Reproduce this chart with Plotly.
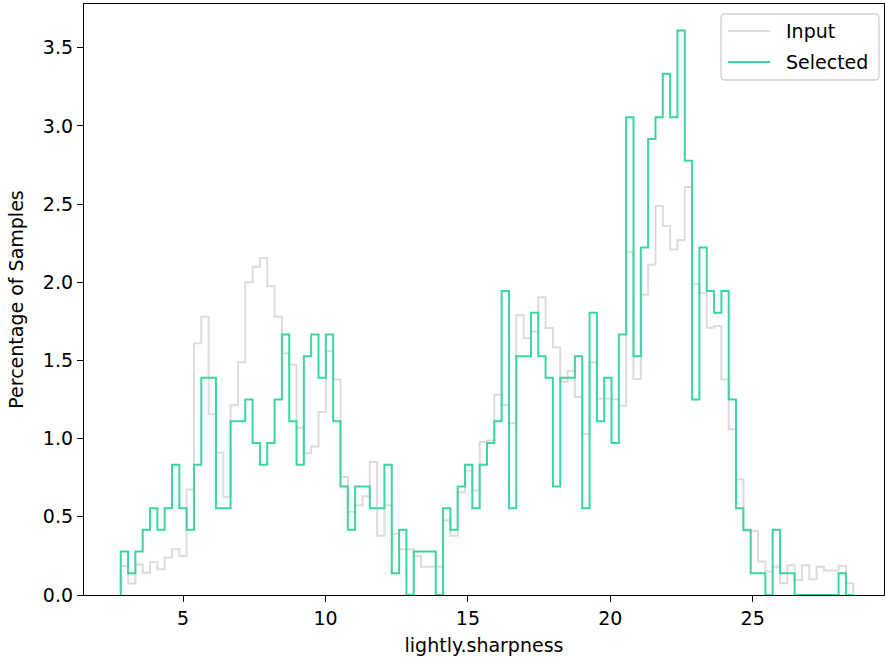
import numpy as np
import plotly.graph_objects as go

# ---- data ----
x_label = "lightly.sharpness"
y_label = "Percentage of Samples"
series_names = ["Input", "Selected"]

hist_range = [2.81, 28.53]   # histogram range of the sharpness values
n_bins = 100

# Input distribution, percentage of samples per bin
input_pct = [
    0.185, 0.073, 0.195, 0.143, 0.21, 0.165, 0.24, 0.293, 0.25, 0.674,
    1.61, 1.78, 1.156, 0.91, 0.627, 1.216, 1.488, 2.0, 2.10, 2.156,
    1.974, 1.78, 1.546, 1.473, 1.07, 0.906, 0.95, 1.17, 1.56, 1.378,
    0.754, 0.533, 0.574, 0.632, 0.85, 0.379, 0.574, 0.392, 0.293, 0.293,
    0.25, 0.18, 0.18, 0.18, 0.478, 0.379, 0.657, 0.795, 0.669, 0.978,
    0.988, 1.28, 1.214, 1.098, 1.79, 1.642, 1.685, 1.905, 1.708, 1.584,
    1.364, 1.434, 1.267, 1.03, 1.488, 1.257, 1.257, 1.252, 1.21, 2.194,
    1.381, 1.92, 2.113, 2.488, 2.36, 2.21, 2.27, 2.61, 1.99, 1.93,
    1.71, 1.72, 1.378, 1.06, 0.74, 0.41, 0.41, 0.214, 0.15, 0.18,
    0.075, 0.19, 0.096, 0.19, 0.1, 0.18, 0.156, 0.156, 0.186, 0.075,
]

# Selected subset: sample counts per bin (out of selected_total)
selected_total = 720
selected_counts = [
    2, 1, 2, 3, 4, 3, 4, 6, 4, 3,
    6, 10, 10, 4, 4, 8, 8, 9, 7, 6,
    7, 9, 12, 8, 6, 11, 12, 10, 12, 8,
    5, 3, 5, 5, 4, 4, 6, 1, 3, 0,
    2, 2, 2, 0, 4, 3, 5, 6, 4, 6,
    7, 8, 14, 4, 11, 11, 13, 11, 10, 5,
    10, 10, 11, 4, 13, 8, 10, 7, 12, 22,
    11, 16, 21, 22, 24, 22, 26, 20, 9, 16,
    14, 13, 14, 9, 4, 3, 1, 1, 0, 3,
    1, 1, 0, 0, 0, 0, 0, 0, 1, 0,
]

y_ticks = [0.0, 0.5, 1.0, 1.5, 2.0, 2.5, 3.0, 3.5]
x_ticks = [5, 10, 15, 20, 25]

# ---- build ----
W, H = 885, 663
ML, MR, MT, MB = 84, 1, 4, 68
PW, PH = W - ML - MR, H - MT - MB

edges = np.linspace(hist_range[0], hist_range[1], n_bins + 1)
selected_pct = np.array(selected_counts) / selected_total * 100.0


def step_outline(values):
    v = np.asarray(values, dtype=float)
    xs = np.concatenate([[edges[0]], edges[:-1], [edges[-1], edges[-1]]])
    ys = np.concatenate([[0.0], v, [v[-1], 0.0]])
    return xs, ys


def px_x(px):
    return (px - ML) / PW


def px_y(py):
    return (H - MB - py) / PH


FONT = "DejaVu Sans, Verdana, sans-serif"
GRAY = "#dcdcdc"
GREEN = "#3bd6a0"
colors = [GRAY, GREEN]

fig = go.Figure()
for name, vals, color in [(series_names[0], input_pct, GRAY),
                          (series_names[1], selected_pct, GREEN)]:
    xs, ys = step_outline(vals)
    fig.add_trace(go.Scatter(
        x=xs, y=ys, mode="lines", name=name,
        line=dict(color=color, width=2, shape="hv"),
        hoverinfo="skip", showlegend=False,
    ))

axis_common = dict(
    showline=True, linecolor="black", linewidth=1.3, mirror=True,
    ticks="outside", ticklen=6, tickwidth=1.3, tickcolor="black",
    showgrid=False, zeroline=False, automargin=False,
    tickfont=dict(family=FONT, size=19, color="black"),
)

# legend (drawn as a box with line samples and text labels)
shapes = []
annotations = []
lx0, lx1, ly0, ly1, r = 721, 879, 14, 80, 4
path = (f"M {px_x(lx0 + r)} {px_y(ly0)} L {px_x(lx1 - r)} {px_y(ly0)} "
        f"Q {px_x(lx1)} {px_y(ly0)} {px_x(lx1)} {px_y(ly0 + r)} "
        f"L {px_x(lx1)} {px_y(ly1 - r)} "
        f"Q {px_x(lx1)} {px_y(ly1)} {px_x(lx1 - r)} {px_y(ly1)} "
        f"L {px_x(lx0 + r)} {px_y(ly1)} "
        f"Q {px_x(lx0)} {px_y(ly1)} {px_x(lx0)} {px_y(ly1 - r)} "
        f"L {px_x(lx0)} {px_y(ly0 + r)} "
        f"Q {px_x(lx0)} {px_y(ly0)} {px_x(lx0 + r)} {px_y(ly0)} Z")
shapes.append(dict(type="path", xref="paper", yref="paper", path=path,
                   line=dict(color="#d0d0d0", width=1.3),
                   fillcolor="rgba(255,255,255,0.8)", layer="above"))
for i, (name, color) in enumerate(zip(series_names, colors)):
    yy = 31 + i * 31
    shapes.append(dict(type="line", xref="paper", yref="paper",
                       x0=px_x(728), x1=px_x(770), y0=px_y(yy), y1=px_y(yy),
                       line=dict(color=color, width=2), layer="above"))
    annotations.append(dict(xref="paper", yref="paper", x=px_x(784), y=px_y(yy),
                            text=name, showarrow=False, xanchor="left",
                            yanchor="middle",
                            font=dict(family=FONT, size=19, color="black")))

fig.update_layout(
    width=W, height=H, autosize=False,
    margin=dict(l=ML, r=MR, t=MT, b=MB, pad=0),
    paper_bgcolor="white", plot_bgcolor="white",
    font=dict(family=FONT, size=19, color="black"),
    xaxis=dict(range=[1.52, 29.61], tickvals=x_ticks,
               title=dict(text=x_label, font=dict(family=FONT, size=19), standoff=10),
               **axis_common),
    yaxis=dict(range=[0, 3.78], tickvals=y_ticks, tickformat=".1f",
               title=dict(text=y_label, font=dict(family=FONT, size=19), standoff=14),
               **axis_common),
    showlegend=False,
    shapes=shapes,
    annotations=annotations,
)

fig.write_html(
    "out.html",
    config={"responsive": False, "displayModeBar": False},
    default_width=f"{W}px", default_height=f"{H}px",
    post_script="document.body.style.margin='0';document.body.style.overflow='hidden';",
)
